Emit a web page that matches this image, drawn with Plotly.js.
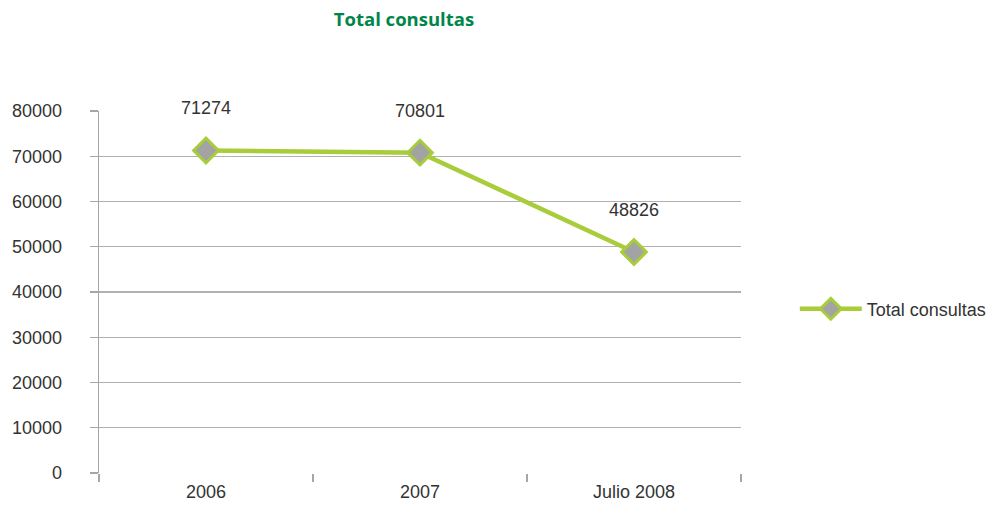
<!DOCTYPE html>
<html>
<head>
<meta charset="utf-8">
<script src="https://cdn.plot.ly/plotly-3.0.1.min.js"></script>
<style>html,body{margin:0;padding:0;background:#fff;}#chart{width:996px;height:523px;}</style>
</head>
<body>
<div id="chart"></div>
<script>
var categories = ["2006", "2007", "Julio 2008"];
var values = [71274, 70801, 48826];
var seriesName = "Total consultas";
var chartTitle = "Total consultas";
var yTickVals = [0, 10000, 20000, 30000, 40000, 50000, 60000, 70000, 80000];

var font = "Liberation Sans, Arial, sans-serif";
var trace = {
  x: categories,
  y: values,
  type: "scatter",
  mode: "lines+markers",
  name: seriesName,
  line: {color: "#a8cc3a", width: 4.5},
  marker: {symbol: "diamond", size: 19, color: "#a3a3a3", line: {color: "#a8cc3a", width: 3}},
  hoverinfo: "none"
};

// category index used as annotation x so numeric-looking labels ("2006") are not read as numbers
var annotations = categories.map(function(c, i) {
  return {x: i, y: values[i], xref: "x", yref: "y", text: String(values[i]),
    showarrow: false, yshift: 42,
    font: {family: font, size: 18, color: "#333"}};
});

var layout = {
  width: 996, height: 523,
  margin: {l: 99, r: 255, t: 111, b: 50},
  paper_bgcolor: "#fff", plot_bgcolor: "#fff",
  title: {text: "<b>" + chartTitle + "</b>", font: {family: "Open Sans, Liberation Sans, sans-serif", size: 18.5, color: "#00854a"},
    x: 0.4056, xanchor: "center", y: 0.962, yanchor: "middle"},
  xaxis: {
    type: "category", range: [-0.5, 2.5], tickson: "boundaries",
    showline: false, showgrid: false, zeroline: false,
    ticks: "outside", ticklen: 8, tickcolor: "#a6a6a6", tickwidth: 1.3,
    ticklabelstandoff: 6,
    tickfont: {family: font, size: 18, color: "#333"}
  },
  yaxis: {
    range: [0, 80000], tickvals: yTickVals, ticktext: yTickVals.map(String),
    showline: true, linecolor: "#a6a6a6", linewidth: 1.3,
    showgrid: true, gridcolor: "#b0b0b0", gridwidth: 1.3, zeroline: false,
    ticks: "outside", ticklen: 8, tickcolor: "#a6a6a6", tickwidth: 1.3,
    ticklabelstandoff: 24,
    tickfont: {family: font, size: 18, color: "#333"}
  },
  showlegend: true,
  legend: {xref: "container", yref: "container", x: 0.798, y: 0.409, xanchor: "left", yanchor: "middle", itemwidth: 62,
    font: {family: font, size: 18, color: "#333"}, bgcolor: "rgba(0,0,0,0)"},
  annotations: annotations
};

Plotly.newPlot("chart", [trace], layout, {displayModeBar: false, staticPlot: true});
</script>
</body>
</html>
